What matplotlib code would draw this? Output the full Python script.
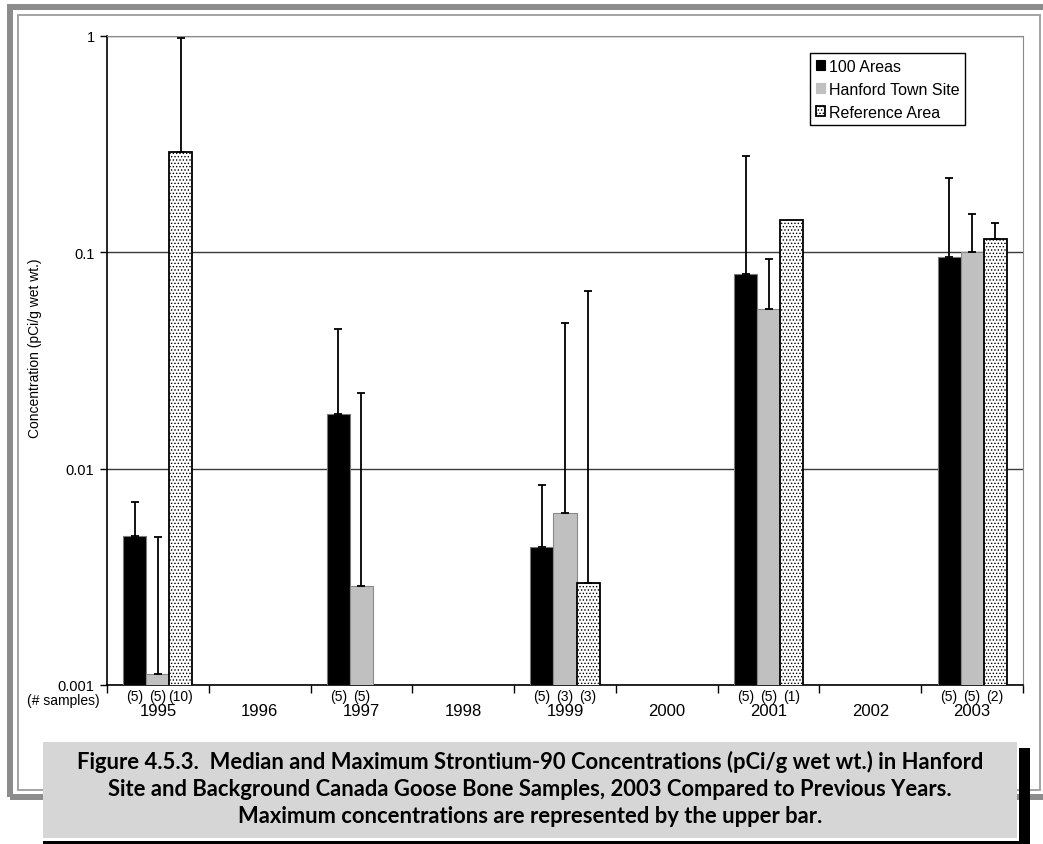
import numpy as np
import matplotlib.pyplot as plt
from matplotlib.patches import Rectangle, Patch

plt.rcParams['font.family'] = ['Liberation Sans', 'DejaVu Sans']
plt.rcParams['hatch.linewidth'] = 0.6

#data (median and maximum, pCi/g wet wt.)
years = ['1995', '1996', '1997', '1998', '1999', '2000', '2001', '2002', '2003']
nan = np.nan
areas100_med = [0.0049, nan, 0.0178, nan, 0.00434, nan, 0.0796, nan, 0.0947]
areas100_max = [0.0070, nan, 0.044, nan, 0.00844, nan, 0.278, nan, 0.219]
town_med = [0.00113, nan, 0.00288, nan, 0.00622, nan, 0.0547, nan, 0.1005]
town_max = [0.00485, nan, 0.0223, nan, 0.0469, nan, 0.0933, nan, 0.150]
ref_med = [0.289, nan, nan, nan, 0.00296, nan, 0.141, nan, 0.115]
ref_max = [0.973, nan, nan, nan, 0.0664, nan, nan, nan, 0.137]
n_100 = ['(5)', '', '(5)', '', '(5)', '', '(5)', '', '(5)']
n_town = ['(5)', '', '(5)', '', '(3)', '', '(5)', '', '(5)']
n_ref = ['(10)', '', '', '', '(3)', '', '(1)', '', '(2)']

W, H = 1043, 845
fig = plt.figure(figsize=(W / 100, H / 100), dpi=100)
ax = fig.add_axes([107 / W, 1 - 686 / H, 916 / W, 649.3 / H])
ax.set_yscale('log')
ax.set_ylim(0.001, 1)
ax.set_xlim(-0.5, 8.5)

x = np.arange(len(years))
bw = 0.226
series = [
    (areas100_med, areas100_max, n_100, -bw, dict(color='black', edgecolor='#7a7a7a', linewidth=0.8), '100 Areas'),
    (town_med, town_max, n_town, 0, dict(color='#c0c0c0', edgecolor='#8a8a8a', linewidth=0.8), 'Hanford Town Site'),
    (ref_med, ref_max, n_ref, bw, dict(facecolor='white', edgecolor='black', linewidth=1.3, hatch='.....'), 'Reference Area'),
]

handles = []
for med, mx, ns, off, style, lab in series:
    med = np.array(med)
    mx = np.array(mx)
    ax.bar(x + off, med, width=bw, zorder=3, **style)
    ok = ~np.isnan(mx)
    ax.errorbar(x[ok] + off, med[ok], yerr=[np.zeros(ok.sum()), (mx - med)[ok]],
                fmt='none', ecolor='black', elinewidth=1.3, capsize=3, capthick=1.3, zorder=4)
    for xi, s in zip(x, ns):
        if s:
            ax.annotate(s, xy=(xi + off, 0), xycoords=ax.get_xaxis_transform(),
                        xytext=(0, -3), textcoords='offset points',
                        ha='center', va='top', fontsize=10)
    handles.append(Patch(label=lab, **style))

#grid / spines
ax.set_yticks([0.001, 0.01, 0.1, 1])
ax.set_yticklabels(['0.001', '0.01', '0.1', '1'])
ax.yaxis.set_minor_locator(plt.NullLocator())
ax.yaxis.grid(True, which='major', color='#3a3a3a', linewidth=1.0, zorder=1)
ax.set_axisbelow(True)
ax.tick_params(axis='y', which='major', length=5, width=1, labelsize=10.5, pad=4)
ax.set_xticks(x)
ax.set_xticklabels(years)
ax.set_xticks(np.arange(-0.5, 9, 1), minor=True)
ax.tick_params(axis='x', which='major', length=0, labelsize=12, pad=13)
ax.tick_params(axis='x', which='minor', length=6, width=1)
for sp in ['top', 'right']:
    ax.spines[sp].set_color('#8a8a8a')
ax.spines['left'].set_linewidth(1.2)
ax.spines['bottom'].set_linewidth(1.2)

ax.set_ylabel('Concentration (pCi/g wet wt.)', fontsize=10)
ax.yaxis.set_label_coords(-65 / 916, 0.52)
fig.text(100 / W, 1 - 701 / H, '(# samples)', ha='right', va='center', fontsize=10)

ax.legend(handles=handles, loc='upper left', bbox_to_anchor=(810 / W, 1 - 54 / H),
          bbox_transform=fig.transFigure, borderaxespad=0, fancybox=False,
          edgecolor='black', framealpha=1, fontsize=11.5, handlelength=0.6,
          handleheight=0.6, handletextpad=0.25, labelspacing=0.5, borderpad=0.35)


def rect(x0, y0, x1, y1, **kw):
    fig.add_artist(Rectangle((x0 / W, 1 - y1 / H), (x1 - x0) / W, (y1 - y0) / H,
                             transform=fig.transFigure, **kw))


#page frame
rect(10, 8, 1049, 798, fill=False, edgecolor='#8c8c8c', linewidth=4.3)
rect(18, 16, 1040, 791, fill=False, edgecolor='#a3a3a3', linewidth=1.4)

#caption box
rect(1019, 749, 1030, 850, facecolor='black', edgecolor='none', zorder=5)
rect(43, 842, 1030, 850, facecolor='black', edgecolor='none', zorder=5)
rect(43, 743, 1017, 839, facecolor='#d6d6d6', edgecolor='none', zorder=5)
caption = ['Figure 4.5.3.  Median and Maximum Strontium-90 Concentrations (pCi/g wet wt.) in Hanford',
           'Site and Background Canada Goose Bone Samples, 2003 Compared to Previous Years.',
           'Maximum concentrations are represented by the upper bar.']
for i, line in enumerate(caption):
    fig.text(530 / W, 1 - (762 + 27.5 * i) / H, line, ha='center', va='center',
             fontsize=15.8, fontweight='bold', family='Lato', zorder=6)

fig.savefig('out.png', dpi=100)
